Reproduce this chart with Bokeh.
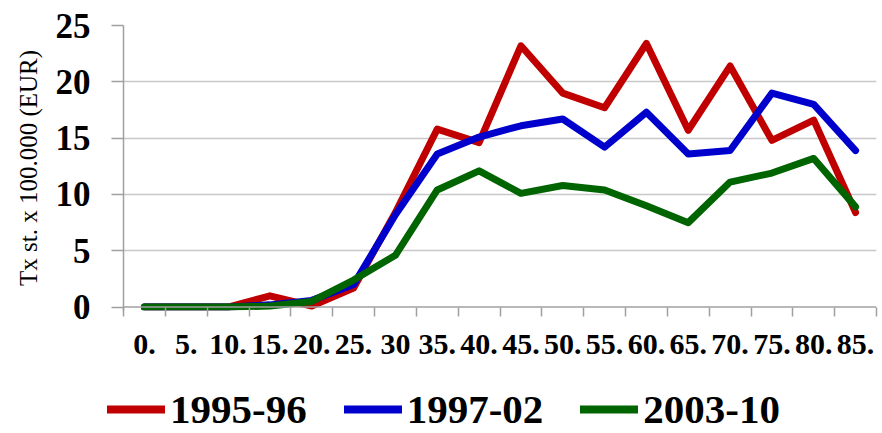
from bokeh.plotting import figure
from bokeh.layouts import column
from bokeh.models import FixedTicker, Span, Legend, LegendItem, Range1d
from bokeh.embed import file_html
from bokeh.resources import INLINE

categories = ["0.", "5.", "10.", "15.", "20.", "25.", "30", "35.", "40.", "45.",
              "50.", "55.", "60.", "65.", "70.", "75.", "80.", "85."]
series_names = ["1995-96", "1997-02", "2003-10"]
r1995_96 = [0.0, 0.0, 0.0, 1.0, 0.1, 1.7, 8.4, 15.8, 14.6, 23.2, 19.0, 17.7, 23.4, 15.7, 21.4, 14.8, 16.6, 8.4]
r1997_02 = [0.0, 0.0, 0.0, 0.2, 0.6, 2.0, 8.2, 13.6, 15.1, 16.1, 16.7, 14.2, 17.3, 13.6, 13.9, 19.0, 18.0, 13.9]
r2003_10 = [0.0, 0.0, 0.0, 0.1, 0.5, 2.4, 4.6, 10.4, 12.1, 10.1, 10.8, 10.4, 9.0, 7.5, 11.1, 11.9, 13.2, 8.9]
y_ticks = [0, 5, 10, 15, 20, 25]
colors = ["#C00000", "#0000CC", "#006400"]

xs = list(range(len(categories)))
W = 880

p = figure(width=W, height=380, output_backend="svg", toolbar_location=None,
           x_range=Range1d(-0.5, len(categories) - 0.5), y_range=Range1d(-0.3, 25),
           min_border_left=123, min_border_top=25, min_border_right=4, min_border_bottom=70)
p.outline_line_color = None
p.background_fill_color = "white"
p.border_fill_color = "white"

FONT = "Liberation Serif"

# y axis
p.yaxis.ticker = FixedTicker(ticks=y_ticks)
p.yaxis.axis_line_color = "#A0A0A0"
p.yaxis.axis_line_width = 1.5
p.yaxis.major_tick_line_color = "#A0A0A0"
p.yaxis.major_tick_line_width = 1.5
p.yaxis.major_tick_out = 12
p.yaxis.major_tick_in = 0
p.yaxis.minor_tick_line_color = None
p.yaxis.major_label_text_font = FONT
p.yaxis.major_label_text_font_style = "bold"
p.yaxis.major_label_text_font_size = "35px"
p.yaxis.major_label_text_color = "black"
p.yaxis.major_label_standoff = 21
p.yaxis.axis_label = "Tx st. x 100.000 (EUR)"
p.yaxis.axis_label_text_font = FONT
p.yaxis.axis_label_text_font_style = "normal"
p.yaxis.axis_label_text_font_size = "25px"
p.yaxis.axis_label_text_color = "black"
p.yaxis.axis_label_standoff = 11

# x axis
p.xaxis.ticker = FixedTicker(ticks=xs, minor_ticks=[i - 0.5 for i in range(len(categories) + 1)])
p.xaxis.major_label_overrides = {i: c for i, c in enumerate(categories)}
p.xaxis.axis_line_color = None
p.xaxis.major_tick_line_color = None
p.xaxis.major_tick_out = 0
p.xaxis.major_tick_in = 0
p.xaxis.minor_tick_line_color = "#A0A0A0"
p.xaxis.minor_tick_line_width = 1.5
p.xaxis.minor_tick_out = 6
p.xaxis.minor_tick_in = 3
p.xaxis.major_label_text_font = FONT
p.xaxis.major_label_text_font_style = "bold"
p.xaxis.major_label_text_font_size = "30px"
p.xaxis.major_label_text_color = "black"
p.xaxis.major_label_standoff = 18

p.xgrid.grid_line_color = None
p.ygrid.ticker = FixedTicker(ticks=y_ticks[1:])
p.ygrid.grid_line_color = "#C8C8C8"
p.ygrid.grid_line_width = 1.5

p.add_layout(Span(location=0, dimension="width", line_color="#A0A0A0", line_width=1.5))

for vals, col in zip([r1995_96, r1997_02, r2003_10], colors):
    p.line(xs, vals, line_color=col, line_width=7, line_join="round", line_cap="round")

# legend strip below the chart
p2 = figure(width=W, height=53, output_backend="svg", toolbar_location=None,
            x_range=Range1d(0, 1), y_range=Range1d(0, 1),
            min_border_left=0, min_border_right=0, min_border_top=0, min_border_bottom=0)
p2.frame_align = False
p2.axis.visible = False
p2.grid.grid_line_color = None
p2.outline_line_color = None
p2.background_fill_color = "white"
p2.border_fill_color = "white"
nan = float("nan")
leg_renderers = []
for col in colors:
    leg_renderers.append(p2.line(x=[nan], y=[nan], line_color=col, line_width=8, line_cap="round"))

legend = Legend(items=[LegendItem(label=n, renderers=[r]) for n, r in zip(series_names, leg_renderers)],
                orientation="horizontal", location=(107, 0),
                label_text_font=FONT, label_text_font_style="bold",
                label_text_font_size="41px", label_text_color="black",
                glyph_width=58, glyph_height=30, label_standoff=5, spacing=37,
                border_line_alpha=0, background_fill_alpha=0, padding=0, margin=0)
p2.add_layout(legend, "center")

layout = column(p, p2, spacing=0)
open("out.html", "w").write(file_html(layout, INLINE))
